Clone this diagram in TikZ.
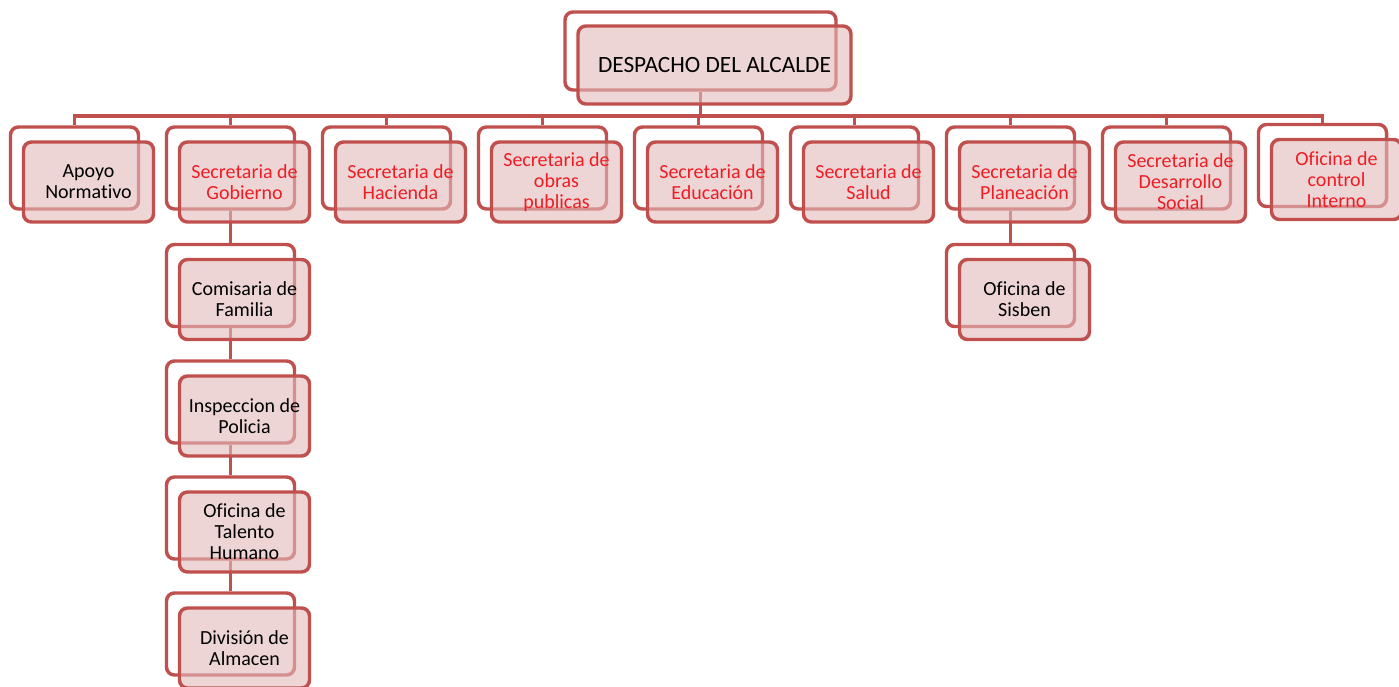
\documentclass[tikz,border=0pt]{standalone}
\usepackage{fontspec}
\setmainfont{Carlito}[Ligatures={NoCommon}]
\usetikzlibrary{positioning, backgrounds}
\definecolor{boxred}{RGB}{192,80,77}
\definecolor{boxpink}{RGB}{226,186,186}
\definecolor{labelred}{RGB}{240,28,36}

\begin{document}
\begin{tikzpicture}[x=0.75pt, y=-0.75pt]
  \tikzstyle{front} = [rectangle, rounded corners=6pt, minimum width=97.5pt, minimum height=60pt, inner sep=1pt, align=center, draw=boxred, line width=2.6pt, fill=boxpink, fill opacity=0.6, text opacity=1, font=\fontsize{15}{15.75}\selectfont]
  \tikzstyle{back} = [rectangle, rounded corners=6pt, minimum width=96pt, minimum height=61.5pt, draw=boxred, line width=2.6pt, fill=white]
  \tikzstyle{secre} = [text=labelred]
  \tikzstyle{link} = [draw=boxred, line width=2.6pt]

  \useasboundingbox (0,0) rectangle (1399,686);

  % Head of the office
  \node (alc) at (714.5,65) [front, minimum width=204.75pt, minimum height=58.5pt, font=\fontsize{17.5}{18}\selectfont] {DESPACHO DEL ALCALDE};

  % First level
  \node (apo) at (88.5,182) [front] {Apoyo\\Normativo};
  \node (gob) at (244.5,182) [front, secre] {Secretaria de\\Gobierno};
  \node (hac) at (400.5,182) [front, secre] {Secretaria de\\Hacienda};
  \node (obr) at (556.5,182) [front, secre] {Secretaria de\\obras\\publicas};
  \node (edu) at (712.5,182) [front, secre] {Secretaria de\\Educación};
  \node (sal) at (868.5,182) [front, secre] {Secretaria de\\Salud};
  \node (pla) at (1024.5,182) [front, secre] {Secretaria de\\Planeación};
  \node (des) at (1180.5,182) [front, secre] {Secretaria de\\Desarrollo\\Social};
  \node (con) at (1336.5,179.5) [front, secre] {Oficina de\\control\\Interno};

  % Under Gobierno
  \node (com) at (244.5,299.5) [front] {Comisaria de\\Familia};
  \node (ins) at (244.5,416) [front] {Inspeccion de\\Policia};
  \node (tal) at (244.5,532) [front] {Oficina de\\Talento\\Humano};
  \node (alm) at (244.5,648) [front] {División de\\Almacen};

  % Under Planeacion
  \node (sis) at (1024.5,299.5) [front] {Oficina de\\Sisben};

  % Shadow boxes and links
  \begin{pgfonlayer}{background}
    \node (alc-b) at ([shift={(-14,-14)}]alc.center) [back, minimum width=203.25pt, minimum height=58.5pt] {};
    \foreach \n in {apo,gob,hac,obr,edu,sal,pla,des,con,com,ins,tal,alm,sis}
      \node (\n-b) at ([shift={(-14,-14)}]\n.center) [back] {};

    \coordinate (bus) at (0,116);
    \foreach \n in {apo,gob,hac,obr,edu,sal,pla,des,con}
      \draw[link] (alc-b.south) |- (bus -| \n-b.north) -- (\n-b.north);

    \draw[link] (gob-b.south) -- (com-b.north);
    \draw[link] (com-b.south) -- (ins-b.north);
    \draw[link] (ins-b.south) -- (tal-b.north);
    \draw[link] (tal-b.south) -- (alm-b.north);
    \draw[link] (pla-b.south) -- (sis-b.north);
  \end{pgfonlayer}
\end{tikzpicture}
\end{document}
